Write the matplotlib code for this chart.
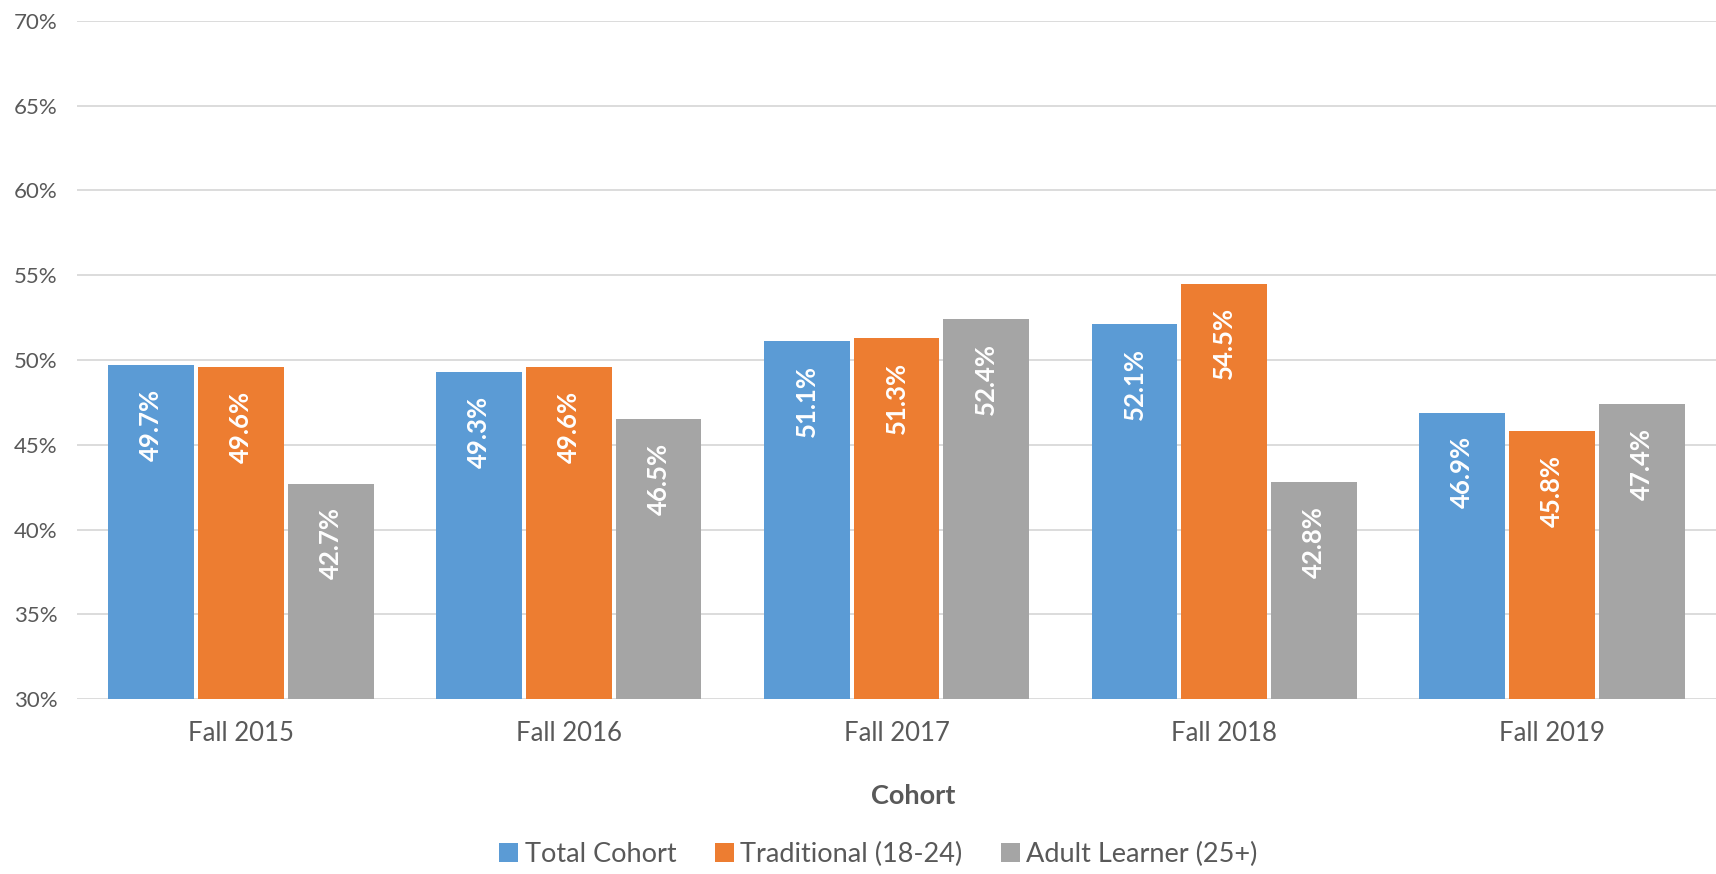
import numpy as np
import matplotlib.pyplot as plt

cohorts = ["Fall 2015", "Fall 2016", "Fall 2017", "Fall 2018", "Fall 2019"]
series_names = ["Total Cohort", "Traditional (18-24)", "Adult Learner (25+)"]
total = [49.7, 49.3, 51.1, 52.1, 46.9]
traditional = [49.6, 49.6, 51.3, 54.5, 45.8]
adult = [42.7, 46.5, 52.4, 42.8, 47.4]
colors = ["#5B9BD5", "#ED7D31", "#A5A5A5"]
yticks = [30, 35, 40, 45, 50, 55, 60, 65, 70]

plt.rcParams['font.family'] = ['Lato', 'DejaVu Sans']

fig = plt.figure(figsize=(17.16, 8.74), dpi=100)
ax = fig.add_axes([0.0449, 0.2002, 0.9551, 0.7758])

x = np.arange(len(cohorts))
width = 0.262
step = 0.274
for i, (vals, name, c) in enumerate(zip([total, traditional, adult], series_names, colors)):
    pos = x + (i - 1) * step
    ax.bar(pos, np.array(vals) - 30, width, bottom=30, color=c, label=name)
    for xp, v in zip(pos, vals):
        ax.annotate(f"{v:.1f}%", (xp, v), xytext=(0, -17), textcoords="offset points",
                    rotation=90, ha="center", va="top", color="white",
                    fontsize=18.5, fontweight="bold")

ax.set_ylim(30, 70)
ax.set_xlim(-0.5, 4.5)
ax.set_yticks(yticks)
ax.set_yticklabels([f"{t}%" for t in yticks])
ax.set_xticks(x)
ax.set_xticklabels(cohorts)
ax.grid(axis="y", color="#D9D9D9", linewidth=1.3)
ax.set_axisbelow(True)
for s in ax.spines.values():
    s.set_visible(False)
ax.tick_params(axis="both", length=0, colors="#595959")
ax.tick_params(axis="y", labelsize=16, pad=14)
ax.tick_params(axis="x", labelsize=18.5, pad=16)
ax.set_xlabel("Cohort", fontsize=19.5, fontweight="bold", color="#595959")
ax.xaxis.set_label_coords(0.51, -0.126)

fig.legend(loc="center", bbox_to_anchor=(0.512, 0.022), ncol=3, frameon=False,
           fontsize=19.5, handlelength=0.7, handleheight=0.7, handletextpad=0.25,
           columnspacing=1.4, labelcolor="#595959")

fig.savefig("out.png", dpi=100)
